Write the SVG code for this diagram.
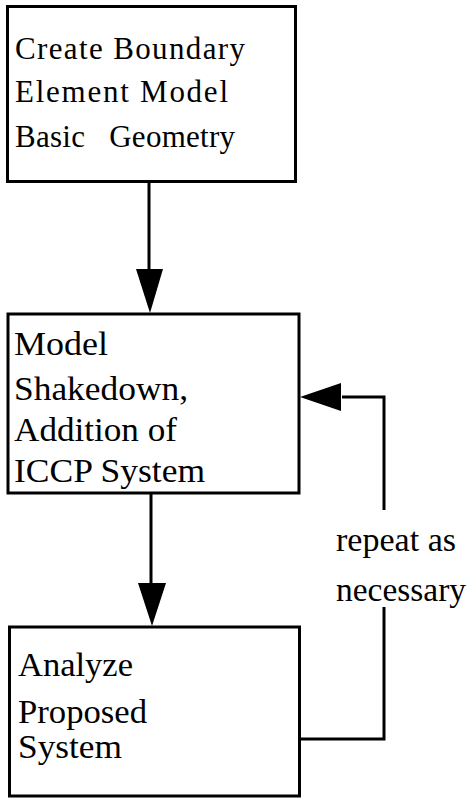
<svg xmlns="http://www.w3.org/2000/svg" width="471" height="800" viewBox="0 0 471 800">
<style>
.box{fill:#fff;stroke:#000;stroke-width:3}
.t{font-family:"Liberation Serif","Times New Roman",serif;font-size:34px;fill:#000}
.t1{font-family:"Liberation Serif","Times New Roman",serif;font-size:31px;fill:#000}
.ln{fill:none;stroke:#000;stroke-width:3}
.ah{fill:#000;stroke:none}
</style>
<rect width="471" height="800" fill="#fff"/>
<g id="node-create">
<rect class="box" x="7.5" y="6.5" width="288" height="175"/>
<text class="t1" x="15" y="59" textLength="230" lengthAdjust="spacing">Create Boundary</text>
<text class="t1" x="15" y="102" textLength="213" lengthAdjust="spacing">Element Model</text>
<text class="t1" x="15" y="147" textLength="220" lengthAdjust="spacing" xml:space="preserve">Basic   Geometry</text>
</g>
<g id="node-shakedown">
<rect class="box" x="8" y="314" width="291" height="179"/>
<text class="t" x="14" y="355" textLength="94" lengthAdjust="spacingAndGlyphs">Model</text>
<text class="t" x="14" y="400" textLength="174" lengthAdjust="spacingAndGlyphs">Shakedown,</text>
<text class="t" x="14" y="441" textLength="163" lengthAdjust="spacingAndGlyphs">Addition of</text>
<text class="t" x="14" y="482" textLength="191" lengthAdjust="spacingAndGlyphs">ICCP System</text>
</g>
<g id="node-analyze">
<rect class="box" x="9.5" y="627" width="290" height="169"/>
<text class="t" x="18" y="676" textLength="115" lengthAdjust="spacingAndGlyphs">Analyze</text>
<text class="t" x="18" y="723" textLength="129" lengthAdjust="spacingAndGlyphs">Proposed</text>
<text class="t" x="18" y="758" textLength="104" lengthAdjust="spacingAndGlyphs">System</text>
</g>
<g id="connectors">
<line class="ln" x1="149" y1="182" x2="149" y2="272"/>
<polygon class="ah" points="136,269 163,269 150,313"/>
<line class="ln" x1="151" y1="494" x2="151" y2="585"/>
<polygon class="ah" points="138,583 166,583 152,626"/>
<path class="ln" d="M300,739 H384 V607"/>
<path class="ln" d="M384,510 V397 H342"/>
<polygon class="ah" points="341,383 341,411 300,397"/>
<text class="t" x="336" y="551" textLength="120" lengthAdjust="spacingAndGlyphs">repeat as</text>
<text class="t" x="336" y="601" textLength="130" lengthAdjust="spacingAndGlyphs">necessary</text>
</g>
</svg>
